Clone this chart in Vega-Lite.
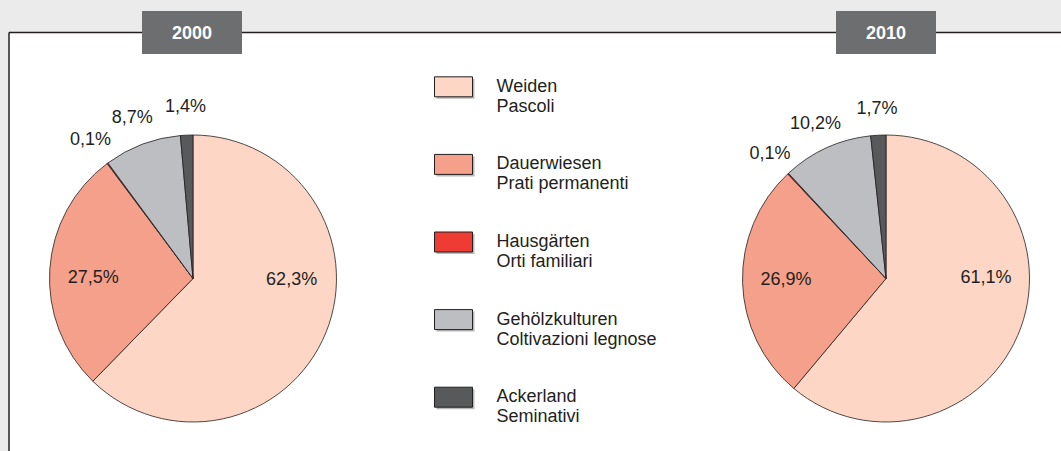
{
  "$schema": "https://vega.github.io/schema/vega-lite/v6.json",
  "background": "#ebebeb",
  "padding": {"left": 8, "top": 10.5, "right": 0, "bottom": 0},
  "spacing": 0,
  "bounds": "flush",
  "config": {
    "view": {"stroke": null, "fill": "white"},
    "font": "Liberation Sans",
    "concat": {"spacing": 0}
  },
  "datasets": {
    "shares": [
      {"year": "2000", "order": 1, "de": "Weiden", "share": 62.3, "label": "62,3%"},
      {"year": "2000", "order": 2, "de": "Dauerwiesen", "share": 27.5, "label": "27,5%"},
      {"year": "2000", "order": 3, "de": "Hausgärten", "share": 0.1, "label": "0,1%"},
      {"year": "2000", "order": 4, "de": "Gehölzkulturen", "share": 8.7, "label": "8,7%"},
      {"year": "2000", "order": 5, "de": "Ackerland", "share": 1.4, "label": "1,4%"},
      {"year": "2010", "order": 1, "de": "Weiden", "share": 61.1, "label": "61,1%"},
      {"year": "2010", "order": 2, "de": "Dauerwiesen", "share": 26.9, "label": "26,9%"},
      {"year": "2010", "order": 3, "de": "Hausgärten", "share": 0.1, "label": "0,1%"},
      {"year": "2010", "order": 4, "de": "Gehölzkulturen", "share": 10.2, "label": "10,2%"},
      {"year": "2010", "order": 5, "de": "Ackerland", "share": 1.7, "label": "1,7%"}
    ],
    "categories": [
      {"order": 1, "de": "Weiden", "it": "Pascoli"},
      {"order": 2, "de": "Dauerwiesen", "it": "Prati permanenti"},
      {"order": 3, "de": "Hausgärten", "it": "Orti familiari"},
      {"order": 4, "de": "Gehölzkulturen", "it": "Coltivazioni legnose"},
      {"order": 5, "de": "Ackerland", "it": "Seminativi"}
    ],
    "years": [{"year": "2000"}, {"year": "2010"}]
  },
  "hconcat": [
    {
      "width": 368,
      "height": 419,
      "view": {"fill": "white", "stroke": null},
      "layer": [
        {
          "data": {"name": "years"},
          "transform": [{"filter": "datum.year == '2000'"}],
          "mark": {"type": "rule", "color": "#231f20", "strokeWidth": 1.5},
          "encoding": {"y": {"value": 0}}
        },
        {
          "data": {"name": "years"},
          "transform": [{"filter": "datum.year == '2000'"}],
          "mark": {"type": "rule", "color": "#231f20", "strokeWidth": 1.5},
          "encoding": {"x": {"value": 0}}
        },
        {
          "data": {"name": "shares"},
          "transform": [{"filter": "datum.year == '2000'"}],
          "mark": {"type": "arc", "outerRadius": 143.5, "stroke": "#231f20", "strokeWidth": 0.8, "yOffset": 36.5},
          "encoding": {
            "theta": {"field": "share", "type": "quantitative", "stack": true, "scale": {"domain": [0, 100]}},
            "order": {"field": "order", "type": "quantitative"},
            "color": {
              "field": "de", "type": "nominal", "legend": null,
              "scale": {
                "domain": ["Weiden", "Dauerwiesen", "Hausgärten", "Gehölzkulturen", "Ackerland"],
                "range": ["#fdd6c5", "#f5a08a", "#ee3b33", "#bdbec2", "#58595b"]
              }
            }
          }
        },
        {
          "data": {"name": "shares"},
          "transform": [
            {"filter": "datum.year == '2000'"},
            {"stack": "share", "groupby": [], "sort": [{"field": "order", "order": "ascending"}], "as": ["s0", "s1"]},
            {"calculate": "(datum.s0 + datum.s1) / 2", "as": "mid"},
            {"filter": "datum.share > 50"}
          ],
          "mark": {"type": "text", "fontSize": 18, "color": "#231f20", "align": "center", "baseline": "middle", "radius": 100, "xOffset": 6, "yOffset": 0.5},
          "encoding": {
            "theta": {"field": "mid", "type": "quantitative", "stack": null, "scale": {"domain": [0, 100]}},
            "text": {"field": "label"}
          }
        },
        {
          "data": {"name": "shares"},
          "transform": [
            {"filter": "datum.year == '2000'"},
            {"stack": "share", "groupby": [], "sort": [{"field": "order", "order": "ascending"}], "as": ["s0", "s1"]},
            {"calculate": "(datum.s0 + datum.s1) / 2", "as": "mid"},
            {"filter": "datum.share > 20 && datum.share < 50"}
          ],
          "mark": {"type": "text", "fontSize": 18, "color": "#231f20", "align": "center", "baseline": "middle", "radius": 100, "yOffset": 43},
          "encoding": {
            "theta": {"field": "mid", "type": "quantitative", "stack": null, "scale": {"domain": [0, 100]}},
            "text": {"field": "label"}
          }
        },
        {
          "data": {"name": "shares"},
          "transform": [
            {"filter": "datum.year == '2000'"},
            {"stack": "share", "groupby": [], "sort": [{"field": "order", "order": "ascending"}], "as": ["s0", "s1"]},
            {"calculate": "(datum.s0 + datum.s1) / 2", "as": "mid"},
            {"filter": "datum.share < 20"}
          ],
          "mark": {"type": "text", "fontSize": 18, "color": "#231f20", "align": "center", "baseline": "middle", "radius": 172, "yOffset": 36.5},
          "encoding": {
            "theta": {"field": "mid", "type": "quantitative", "stack": null, "scale": {"domain": [0, 100]}},
            "text": {"field": "label"}
          }
        },
        {
          "data": {"name": "years"},
          "transform": [{"filter": "datum.year == '2000'"}],
          "mark": {"type": "point", "shape": "M-1,-0.43H1V0.43H-1Z", "size": 10000, "filled": true, "color": "#6d6e70", "opacity": 1, "xOffset": -1},
          "encoding": {"y": {"value": 0}}
        },
        {
          "data": {"name": "years"},
          "transform": [{"filter": "datum.year == '2000'"}],
          "mark": {"type": "text", "color": "white", "fontWeight": "bold", "fontSize": 18, "baseline": "middle", "align": "center", "xOffset": -1, "dy": 1},
          "encoding": {"y": {"value": 0}, "text": {"field": "year"}}
        }
      ]
    },
    {
      "width": 333,
      "height": 419,
      "view": {"fill": "white", "stroke": null},
      "data": {"name": "categories"},
      "transform": [{"calculate": "[datum.de, datum.it]", "as": "lines"}],
      "encoding": {
        "y": {"field": "de", "type": "nominal", "sort": {"field": "order"}, "scale": {"type": "point", "padding": 0.7}, "axis": null}
      },
      "layer": [
        {
          "data": {"name": "years"},
          "transform": [{"filter": "datum.year == '2000'"}],
          "mark": {"type": "rule", "color": "#231f20", "strokeWidth": 1.5},
          "encoding": {"y": {"value": 0}}
        },
        {
          "mark": {"type": "point", "shape": "M-1,-0.526H1V0.526H-1Z", "size": 1444, "filled": true, "color": "#8a8a8a", "opacity": 0.6, "xOffset": -88, "yOffset": 2}
        },
        {
          "mark": {"type": "point", "shape": "M-1,-0.526H1V0.526H-1Z", "size": 1444, "filled": true, "opacity": 1, "stroke": "#231f20", "strokeWidth": 1, "xOffset": -90},
          "encoding": {
            "fill": {
              "field": "de", "type": "nominal", "legend": null,
              "scale": {
                "domain": ["Weiden", "Dauerwiesen", "Hausgärten", "Gehölzkulturen", "Ackerland"],
                "range": ["#fdd6c5", "#f5a08a", "#ee3b33", "#bdbec2", "#58595b"]
              }
            }
          }
        },
        {
          "mark": {"type": "text", "align": "left", "baseline": "alphabetic", "dy": 5, "xOffset": -47, "fontSize": 18, "lineHeight": 20, "color": "#231f20"},
          "encoding": {"text": {"field": "lines"}}
        }
      ]
    },
    {
      "width": 352,
      "height": 419,
      "view": {"fill": "white", "stroke": null},
      "layer": [
        {
          "data": {"name": "years"},
          "transform": [{"filter": "datum.year == '2010'"}],
          "mark": {"type": "rule", "color": "#231f20", "strokeWidth": 1.5},
          "encoding": {"y": {"value": 0}}
        },
        {
          "data": {"name": "shares"},
          "transform": [{"filter": "datum.year == '2010'"}],
          "mark": {"type": "arc", "outerRadius": 143.5, "stroke": "#231f20", "strokeWidth": 0.8, "yOffset": 36.5},
          "encoding": {
            "theta": {"field": "share", "type": "quantitative", "stack": true, "scale": {"domain": [0, 100]}},
            "order": {"field": "order", "type": "quantitative"},
            "color": {
              "field": "de", "type": "nominal", "legend": null,
              "scale": {
                "domain": ["Weiden", "Dauerwiesen", "Hausgärten", "Gehölzkulturen", "Ackerland"],
                "range": ["#fdd6c5", "#f5a08a", "#ee3b33", "#bdbec2", "#58595b"]
              }
            }
          }
        },
        {
          "data": {"name": "shares"},
          "transform": [
            {"filter": "datum.year == '2010'"},
            {"stack": "share", "groupby": [], "sort": [{"field": "order", "order": "ascending"}], "as": ["s0", "s1"]},
            {"calculate": "(datum.s0 + datum.s1) / 2", "as": "mid"},
            {"filter": "datum.share > 50"}
          ],
          "mark": {"type": "text", "fontSize": 18, "color": "#231f20", "align": "center", "baseline": "middle", "radius": 100, "xOffset": 6, "yOffset": 2},
          "encoding": {
            "theta": {"field": "mid", "type": "quantitative", "stack": null, "scale": {"domain": [0, 100]}},
            "text": {"field": "label"}
          }
        },
        {
          "data": {"name": "shares"},
          "transform": [
            {"filter": "datum.year == '2010'"},
            {"stack": "share", "groupby": [], "sort": [{"field": "order", "order": "ascending"}], "as": ["s0", "s1"]},
            {"calculate": "(datum.s0 + datum.s1) / 2", "as": "mid"},
            {"filter": "datum.share > 20 && datum.share < 50"}
          ],
          "mark": {"type": "text", "fontSize": 18, "color": "#231f20", "align": "center", "baseline": "middle", "radius": 100, "yOffset": 35},
          "encoding": {
            "theta": {"field": "mid", "type": "quantitative", "stack": null, "scale": {"domain": [0, 100]}},
            "text": {"field": "label"}
          }
        },
        {
          "data": {"name": "shares"},
          "transform": [
            {"filter": "datum.year == '2010'"},
            {"stack": "share", "groupby": [], "sort": [{"field": "order", "order": "ascending"}], "as": ["s0", "s1"]},
            {"calculate": "(datum.s0 + datum.s1) / 2", "as": "mid"},
            {"filter": "datum.share < 20"}
          ],
          "mark": {"type": "text", "fontSize": 18, "color": "#231f20", "align": "center", "baseline": "middle", "radius": 170, "yOffset": 36.5},
          "encoding": {
            "theta": {"field": "mid", "type": "quantitative", "stack": null, "scale": {"domain": [0, 100]}},
            "text": {"field": "label"}
          }
        },
        {
          "data": {"name": "years"},
          "transform": [{"filter": "datum.year == '2010'"}],
          "mark": {"type": "point", "shape": "M-1,-0.43H1V0.43H-1Z", "size": 10000, "filled": true, "color": "#6d6e70", "opacity": 1},
          "encoding": {"y": {"value": 0}}
        },
        {
          "data": {"name": "years"},
          "transform": [{"filter": "datum.year == '2010'"}],
          "mark": {"type": "text", "color": "white", "fontWeight": "bold", "fontSize": 18, "baseline": "middle", "align": "center", "dy": 1},
          "encoding": {"y": {"value": 0}, "text": {"field": "year"}}
        }
      ]
    }
  ]
}
